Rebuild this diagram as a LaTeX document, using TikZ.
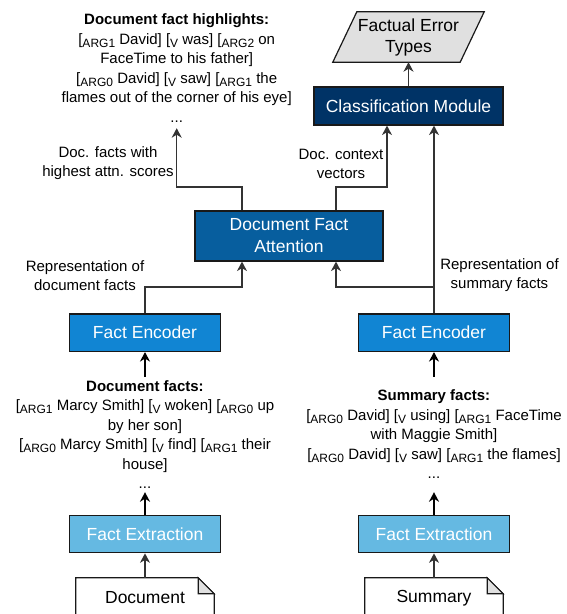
\documentclass[tikz,border=0pt]{standalone}
\usepackage{fontspec}
\setmainfont{Liberation Sans}
\usetikzlibrary{arrows.meta,calc,backgrounds}
\definecolor{clsblue}{HTML}{003366}
\definecolor{attblue}{HTML}{075E9E}
\definecolor{encblue}{HTML}{1185D3}
\definecolor{extblue}{HTML}{65B9E2}
\definecolor{outgray}{HTML}{E0E0E0}
\definecolor{edgegray}{HTML}{333333}
\tikzset{
  >={Stealth[length=9.5pt,width=10pt,inset=3pt]},
  box/.style={draw=black!90,line width=1.2pt,text=white,align=center,inner sep=0,
              font=\fontsize{17.5}{22}\selectfont},
  box cls/.style={box,fill=clsblue,minimum width=189,minimum height=38},
  box att/.style={box,fill=attblue,minimum width=188,minimum height=50},
  box enc/.style={box,fill=encblue,minimum width=151,minimum height=37.5},
  box ext/.style={box,fill=extblue,minimum width=151,minimum height=37.5},
  facts/.style={align=center,inner sep=0,font=\fontsize{15}{19.5}\selectfont},
  annot/.style={align=center,inner sep=0,font=\fontsize{15}{19}\selectfont},
  docnote/.style={minimum width=138,minimum height=40,inner sep=0,
                  font=\fontsize{17.5}{22}\selectfont},
  connect/.style={->,line width=1.2pt,edgegray},
  connect bold/.style={->,line width=1.8pt,black}
}
\newcommand{\sr}[1]{\raisebox{-3pt}{\fontsize{12}{12}\selectfont #1}}

\begin{document}
\begin{tikzpicture}[x=1pt,y=-1pt]
  \useasboundingbox (0,0) rectangle (567,614);

  % Output and classification
  \node[minimum width=127,minimum height=50,inner sep=0,align=center,
        font=\fontsize{17.5}{21}\selectfont] (fet) at (408.5,37) {Factual Error\\Types};
  \begin{scope}[on background layer]
    \filldraw[fill=outgray,draw=black!90,line width=1.2pt]
      ([xshift=12]fet.north west) -- ([xshift=12]fet.north east)
      -- ([xshift=-12]fet.south east) -- ([xshift=-12]fet.south west) -- cycle;
  \end{scope}
  \node[box cls] (cls) at (408.5,106) {Classification Module};
  \node[box att] (att) at (289,236) {Document Fact\\Attention};

  % Highlighted document facts
  \node[facts,minimum height=120] (hl) at (176.7,68) {\textbf{Document fact highlights:}\\
    {}[\sr{ARG1} David] [\sr{V} was] [\sr{ARG2} on\\
    FaceTime to his father]\\
    {}[\sr{ARG0} David] [\sr{V} saw] [\sr{ARG1} the\\
    flames out of the corner of his eye]\\
    ...};

  % Two columns: extraction, encoding
  \foreach \x/\i/\src in {145/1/Document,434/2/Summary}{%
    \node[box ext] (ext\i) at (\x,534) {Fact Extraction};
    \node[box enc] (enc\i) at (\x,332.7) {Fact Encoder};
    \node[docnote] (doc\i) at (\x,598) {\src};
    \draw[line width=1.2pt,black!90] (doc\i.south west) -- (doc\i.north west)
      -- ([xshift=-16]doc\i.north east) -- ([yshift=-16]doc\i.north east) -- (doc\i.south east);
    \filldraw[fill=black!12,draw=black!90,line width=1.2pt] ([xshift=-16]doc\i.north east)
      -- ([xshift=-16,yshift=-16]doc\i.north east) -- ([yshift=-16]doc\i.north east) -- cycle;
    \draw[connect] (doc\i.north) -- (ext\i.south);
  }

  % Extracted facts
  \node[facts,minimum height=115] (dfacts) at (145,434.5) {\textbf{Document facts:}\\
    {}[\sr{ARG1} Marcy Smith] [\sr{V} woken] [\sr{ARG0} up\\
    by her son]\\
    {}[\sr{ARG0} Marcy Smith] [\sr{V} find] [\sr{ARG1} their\\
    house]\\
    ...};
  \node[facts,minimum height=115] (sfacts) at (434,434.5) {\textbf{Summary facts:}\\
    {}[\sr{ARG0} David] [\sr{V} using] [\sr{ARG1} FaceTime\\
    with Maggie Smith]\\
    {}[\sr{ARG0} David] [\sr{V} saw] [\sr{ARG1} the flames]\\
    ...};
  \draw[connect bold] (ext1.north) -- (dfacts.south);
  \draw[connect bold] (dfacts.north) -- (enc1.south);
  \draw[connect bold] (ext2.north) -- (sfacts.south);
  \draw[connect bold] (sfacts.north) -- (enc2.south);

  % Encoders to attention and classifier
  \draw[connect] (enc1.north) -- ++(0,-26.3) -| ([xshift=-47]att.south);
  \draw[connect] (enc2.north) -- (enc2.north |- cls.south);
  \coordinate (sj) at ($(enc2.north)+(0,-26.3)$);
  \draw[connect] (sj) -| ([xshift=47]att.south);

  % Attention outputs
  \draw[connect] ([xshift=-47]att.north) -- ++(0,-23.5) -| (hl.south);
  \draw[connect] ([xshift=47]att.north) -- ++(0,-23.5) -| ([xshift=-21.5]cls.south);
  \draw[connect] (cls.north) -- (fet.south);

  % Labels
  \node[annot] (lhigh) at (108,163.5) {Doc. facts with\\highest attn. scores};
  \node[annot] (lctx) at (341,163.5) {Doc. context\\vectors};
  \node[annot] (lrdoc) at (85,275.5) {Representation of\\document facts};
  \node[annot] (lrsum) at (499.5,275.5) {Representation of\\summary facts};
\end{tikzpicture}
\end{document}
